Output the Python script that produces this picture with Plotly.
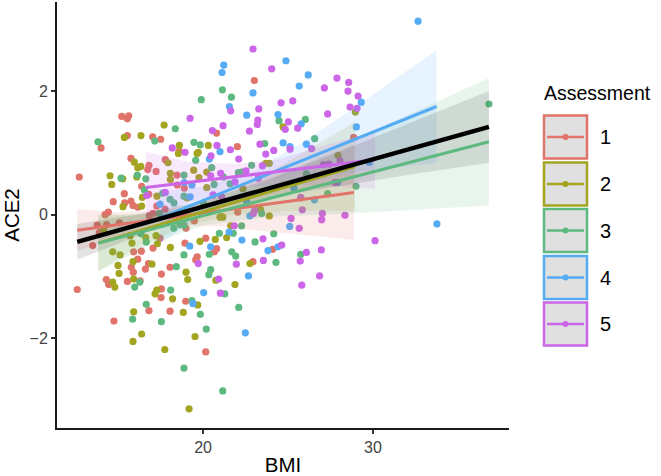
import plotly.graph_objects as go

# points, one x/y pair of lists per assessment
bmi1 = [23.02, 20.8, 28.86, 15.22, 15.55, 15.63, 15.55, 14.0, 12.72, 17.04, 17.51, 22.02, 18.59, 15.76, 17.78, 16.82,
        16.75, 17.24, 18.47, 16.39, 15.37, 14.72, 15.39, 15.76, 15.88, 16.16, 14.43, 14.24, 16.81, 18.9, 17.76, 17.28,
        22.04, 18.49, 19.0, 19.49, 25.75, 18.94, 19.66, 20.16, 20.8, 20.67, 24.1, 19.57, 22.94, 18.98, 20.16, 12.6,
        14.76, 13.78, 14.33, 15.08, 13.51, 13.9, 17.47, 15.92, 16.37, 17.06, 16.16, 16.79, 16.61, 15.78, 15.9, 18.06,
        17.55, 14.31, 14.45, 15.55, 16.3, 17.55, 17.53, 16.82, 18.06, 16.84, 17.06]
ace1 = [2.17, 1.32, 1.25, 1.59, 1.55, 1.6, 1.28, 1.08, 0.61, 1.26, 1.22, 1.1, 1.03, 0.91, 0.89, 0.8,
        0.73, 0.7, 0.64, 0.46, 0.34, 0.21, 0.19, 0.22, 0.15, 0.12, 0.04, 0.0, 0.33, 0.43, 0.09, 0.14,
        0.04, 0.48, -0.22, -0.1, 0.27, -0.46, -0.68, -0.38, -0.55, -0.6, -0.56, -0.73, -0.76, -1.4, -2.22, -1.21,
        -1.72, -0.17, -0.16, -0.13, -0.5, -0.29, -0.38, -0.6, -0.59, -0.54, -0.72, -0.79, -0.88, -0.85, -0.93, -0.85,
        -0.96, -1.05, -1.13, -1.08, -1.07, -1.2, -1.34, -1.55, -1.56, -0.02, 0.02]

bmi2 = [24.71, 28.96, 27.94, 23.69, 23.9, 23.9, 17.71, 16.35, 15.37, 18.61, 20.31, 19.72, 19.65, 18.55, 15.96, 16.34,
        16.16, 17.94, 19.45, 20.22, 14.53, 15.28, 14.63, 16.1, 18.08, 18.08, 19.76, 20.22, 17.29, 16.43, 16.39, 15.29,
        19.06, 22.35, 23.37, 21.1, 21.0, 21.16, 21.63, 21.39, 20.72, 19.82, 19.0, 19.1, 20.75, 21.88, 22.76, 19.69,
        18.84, 19.53, 15.82, 16.63, 17.24, 17.32, 18.08, 14.69, 15.12, 15.0, 15.06, 14.69, 14.81, 15.92, 15.88, 17.0,
        17.28, 17.18, 18.21, 15.92, 16.39, 15.88, 17.75, 19.18, 14.16, 15.71]
ace2 = [1.42, 1.66, 0.96, 0.83, 0.83, -0.02, 1.45, 1.28, 1.25, 1.12, 1.12, 1.01, 0.99, 0.99, 0.85, 0.78,
        0.76, 0.84, 0.72, 0.69, 0.63, 0.58, 0.49, 0.61, 0.67, 0.57, 0.6, 0.44, 0.3, 0.28, 0.14, 0.13,
        0.27, 0.42, 0.09, -0.03, -0.04, -0.04, -0.18, -0.37, -0.4, -0.43, -0.93, -1.05, -1.06, -1.13, -0.79, -1.46,
        -1.58, -1.97, -0.46, -0.37, -0.34, -0.47, -0.53, -0.6, -0.65, -0.82, -0.95, -1.09, -1.17, -1.04, -0.76, -0.8,
        -1.22, -1.28, -1.36, -1.57, -1.93, -2.05, -2.18, -3.14, -0.25, -0.34]

bmi3 = [19.9, 21.14, 21.67, 24.47, 26.02, 26.57, 23.63, 26.08, 29.0, 27.33, 36.82, 23.45, 18.37, 13.82, 17.16, 19.47,
        19.84, 19.57, 20.51, 22.86, 22.08, 22.27, 15.18, 16.14, 16.63, 18.88, 20.65, 21.2, 21.59, 16.55, 17.63, 18.06,
        18.29, 18.88, 20.02, 17.43, 22.27, 20.96, 23.06, 24.16, 20.37, 21.69, 21.92, 18.88, 25.75, 18.88, 20.45, 20.34,
        21.28, 19.35, 19.84, 22.1, 20.19, 18.88, 24.29, 21.16, 17.55, 15.86, 16.66, 18.1, 15.98, 16.28, 18.43, 16.66,
        18.28, 18.65, 16.35, 21.78]
ace3 = [1.86, 2.02, 1.9, 1.52, 1.54, 1.23, 1.15, 0.66, 0.46, 0.34, 1.79, 0.02, 1.39, 1.18, 1.19, 1.17,
        1.13, 0.88, 0.76, 0.8, 0.68, 0.69, 0.59, 0.64, 0.58, 0.64, 0.49, 0.61, 0.5, 0.4, 0.35, 0.25,
        0.19, 0.3, 0.19, 0.02, -0.18, -0.3, -0.44, -0.31, -0.64, -0.6, -0.67, -0.17, -0.64, -0.65, -0.89, -0.97,
        -1.28, -1.39, -1.61, -1.5, -1.85, -2.48, -0.77, -2.85, -1.73, -1.69, -1.45, -1.22, -1.17, -1.09, -0.84, -0.44,
        -0.22, -0.16, -0.31, -0.3]

bmi4 = [21.22, 21.12, 24.88, 22.94, 26.19, 25.66, 21.55, 22.57, 24.41, 25.78, 32.65, 29.31, 29.02, 24.71, 25.12, 26.08,
        29.78, 25.35, 26.55, 27.92, 33.76, 25.1, 23.82, 24.41, 21.0, 20.37, 19.35, 18.9, 17.47, 22.76, 19.24, 22.57,
        21.53, 22.29, 19.22, 20.45, 22.67, 20.04, 19.41, 22.49]
ace4 = [2.42, 2.3, 2.49, 1.97, 2.26, 2.08, 1.75, 1.61, 1.62, 1.47, 3.13, 1.82, 1.42, 1.16, 1.1, 1.14,
        0.85, 0.43, 0.24, 0.52, -0.15, -0.19, -0.58, -0.52, 1.02, 0.9, 0.48, 0.52, 0.17, -0.02, 0.29, 0.21,
        -0.28, -0.41, -0.51, -0.52, -0.99, -1.26, -1.44, -1.91]

bmi5 = [22.94, 24.04, 19.24, 20.55, 21.18, 21.63, 23.28, 23.22, 23.19, 22.73, 24.59, 25.28, 25.02, 24.84, 25.57, 27.14,
        27.88, 28.57, 28.53, 29.12, 28.65, 29.06, 27.33, 23.69, 24.16, 25.12, 26.39, 23.35, 23.49, 27.08, 27.41, 28.06,
        27.76, 25.75, 25.84, 27.02, 26.98, 25.18, 28.35, 25.66, 23.53, 24.63, 26.08, 26.96, 25.72, 23.55, 26.86, 25.81,
        30.12, 20.82, 18.19, 18.94, 21.61, 20.47, 22.1, 22.53, 21.04, 20.45, 23.25, 21.88, 16.69, 17.78, 20.59, 21.1,
        23.04, 19.72, 20.92, 21.02, 21.96, 21.84, 22.96]
ace5 = [2.68, 2.36, 1.56, 1.36, 1.44, 1.68, 1.71, 1.53, 1.46, 1.35, 1.81, 1.84, 1.5, 1.38, 1.4, 2.05,
        2.21, 2.14, 2.0, 1.92, 1.74, 1.72, 1.63, 0.98, 1.04, 1.06, 1.07, 1.14, 0.79, 0.81, 0.82, 0.87,
        0.52, 0.28, 0.08, 0.02, -0.08, -0.06, -0.01, -0.22, -0.39, -0.49, -0.61, -0.57, -0.75, -0.74, -0.99, -1.14,
        -0.42, 1.12, 1.08, 1.01, 1.05, 0.95, 0.9, 0.71, 0.67, 0.63, 0.59, 0.53, 0.31, 0.36, 0.32, 0.29,
        0.07, -0.79, -1.04, -1.27, -0.8, -0.18, 0.02]

# fitted lines and their ribbons, estimated at a few x positions
fit_x1 = [12.6, 15, 18, 21, 24, 26.5, 28.88]
fit_y1 = [-0.25, -0.16, -0.05, 0.06, 0.18, 0.27, 0.36]
up1 = [0.09, 0.04, 0.08, 0.31, 0.64, 0.88, 1.13]
lo1 = [-0.59, -0.36, -0.18, -0.19, -0.28, -0.34, -0.41]

fit_x2 = [13.84, 16, 19, 22, 25, 27, 28.94]
fit_y2 = [-0.46, -0.28, -0.04, 0.21, 0.46, 0.62, 0.78]
up2 = [-0.01, -0.01, 0.1, 0.41, 0.86, 1.18, 1.5]
lo2 = [-0.91, -0.55, -0.18, 0.01, 0.06, 0.06, 0.06]

fit_x3 = [13.84, 17, 20, 24, 28, 32, 36.82]
fit_y3 = [-0.46, -0.23, -0.02, 0.27, 0.55, 0.84, 1.18]
up3 = [0.0, 0.01, 0.13, 0.57, 1.09, 1.61, 2.21]
lo3 = [-0.92, -0.47, -0.17, -0.03, 0.01, 0.07, 0.15]

fit_x4 = [17.47, 20, 23, 26, 29, 31.5, 33.74]
fit_y4 = [-0.05, 0.23, 0.56, 0.89, 1.22, 1.5, 1.75]
up4 = [0.37, 0.45, 0.71, 1.19, 1.75, 2.23, 2.66]
lo4 = [-0.47, 0.01, 0.41, 0.59, 0.69, 0.77, 0.84]

fit_x5 = [16.65, 19, 22, 24.5, 27, 30.12]
fit_y5 = [0.44, 0.52, 0.62, 0.7, 0.79, 0.89]
up5 = [1.02, 0.86, 0.82, 0.9, 1.11, 1.35]
lo5 = [-0.14, 0.18, 0.42, 0.5, 0.47, 0.42]

fit_x_all = [12.6, 16, 20, 24, 28, 32, 36.82]
fit_y_all = [-0.44, -0.18, 0.13, 0.44, 0.74, 1.05, 1.42]
up_all = [-0.15, 0.0, 0.22, 0.59, 1.02, 1.46, 2.0]
lo_all = [-0.73, -0.36, 0.04, 0.29, 0.46, 0.64, 0.84]

labels = ["1", "2", "3", "4", "5"]
colors = ["#E0736A", "#A3A520", "#5DB97F", "#55ACF5", "#CC66E8"]
fills = ["rgba(224,115,106,0.14)", "rgba(163,165,32,0.14)", "rgba(93,185,127,0.14)",
         "rgba(85,172,245,0.14)", "rgba(204,102,232,0.14)"]

points = [(bmi1, ace1), (bmi2, ace2), (bmi3, ace3), (bmi4, ace4), (bmi5, ace5)]
fits = [(fit_x1, fit_y1, up1, lo1), (fit_x2, fit_y2, up2, lo2), (fit_x3, fit_y3, up3, lo3),
        (fit_x4, fit_y4, up4, lo4), (fit_x5, fit_y5, up5, lo5)]

fig = go.Figure()

for i in range(5):
    fig.add_trace(go.Scatter(x=points[i][0], y=points[i][1], mode="markers",
                             marker=dict(size=7.2, color=colors[i]), name=labels[i], hoverinfo="skip"))

for i in range(5):
    fx, fy, up, lo = fits[i]
    fig.add_trace(go.Scatter(x=fx + fx[::-1], y=up + lo[::-1], mode="lines", fill="toself",
                             fillcolor=fills[i], line=dict(width=0), hoverinfo="skip"))

fig.add_trace(go.Scatter(x=fit_x_all + fit_x_all[::-1], y=up_all + lo_all[::-1], mode="lines", fill="toself",
                         fillcolor="rgba(60,60,60,0.14)", line=dict(width=0), hoverinfo="skip"))

for i in range(5):
    fx, fy, up, lo = fits[i]
    fig.add_trace(go.Scatter(x=fx, y=fy, mode="lines", line=dict(color=colors[i], width=3), hoverinfo="skip"))

fig.add_trace(go.Scatter(x=fit_x_all, y=fit_y_all, mode="lines", line=dict(color="black", width=4.5), hoverinfo="skip"))

# legend keys are drawn by hand, plotly has no boxed key like this one
W, H = 661.0, 476.0
L, R, T, B = 57, 509, 2, 428
box_tops = [115.5, 162.5, 209, 256, 302.5]


def px(v):
    return (v - L) / (R - L)


def py(v):
    return (B - v) / (B - T)


for i in range(5):
    top = box_tops[i]
    fig.add_shape(type="rect", xref="paper", yref="paper", x0=px(544), x1=px(587), y0=py(top + 43), y1=py(top),
                  fillcolor="#E0E0E0", line=dict(color=colors[i], width=2.5))
    mid = top + 21.5
    fig.add_shape(type="line", xref="paper", yref="paper", x0=px(547), x1=px(584), y0=py(mid), y1=py(mid),
                  line=dict(color=colors[i], width=2.5))
    fig.add_shape(type="circle", xref="paper", yref="paper", x0=px(562.5), x1=px(568.5), y0=py(mid + 3), y1=py(mid - 3),
                  fillcolor=colors[i], line=dict(width=0))
    fig.add_annotation(xref="paper", yref="paper", x=px(605), y=py(mid), text=labels[i], showarrow=False,
                       font=dict(size=20, color="black"), xanchor="center", yanchor="middle")

fig.add_annotation(xref="paper", yref="paper", x=px(542), y=py(93), text="Assessment", showarrow=False,
                   font=dict(size=19.5, color="black"), xanchor="left", yanchor="middle")

fig.update_xaxes(range=[11.41, 38.0], tickvals=[20, 30], ticks="outside", ticklen=4, tickwidth=1.5,
                 tickcolor="#333333", showline=True, linecolor="#1a1a1a", linewidth=2, showgrid=False, zeroline=False,
                 tickfont=dict(size=16, color="#444444"),
                 title=dict(text="BMI", font=dict(size=20.5, color="black"), standoff=4))
fig.update_yaxes(range=[-3.45, 3.44], tickvals=[-2, 0, 2], ticks="outside", ticklen=4, tickwidth=1.5,
                 tickcolor="#333333", showline=True, linecolor="#1a1a1a", linewidth=2, showgrid=False, zeroline=False,
                 tickfont=dict(size=16, color="#444444"),
                 title=dict(text="ACE2", font=dict(size=20.5, color="black"), standoff=10))
fig.update_layout(width=661, height=476, autosize=False, showlegend=False, plot_bgcolor="white", paper_bgcolor="white",
                  font=dict(family="Liberation Sans"), margin=dict(l=L, r=W - R, t=T, b=H - B))

fig.write_html("out.html", config=dict(displayModeBar=False),
               post_script="document.body.style.margin='0';document.body.style.overflow='hidden';")
